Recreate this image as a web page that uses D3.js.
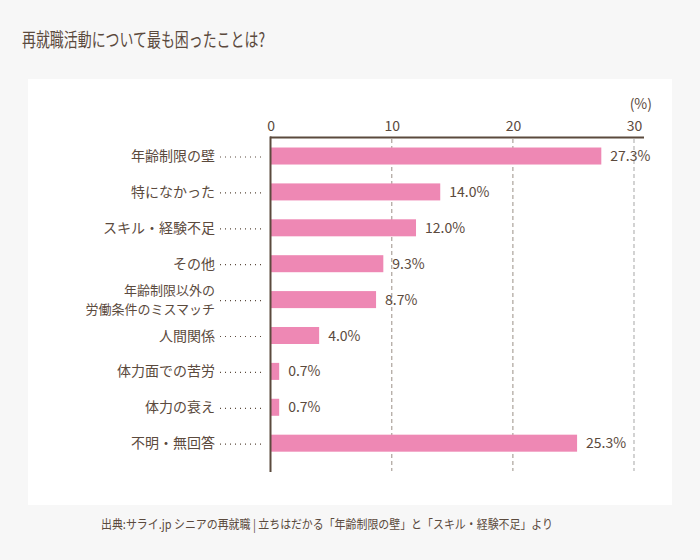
<!DOCTYPE html>
<html>
<head>
<meta charset="utf-8">
<script src="https://cdn.jsdelivr.net/npm/d3@7"></script>
<style>
  body { margin: 0; background: #f7f7f7; }
  svg { display: block; font-family: "Noto Sans CJK JP", "Noto Sans", sans-serif; }
</style>
</head>
<body>
<div id="chart"></div>
<script>
var title = "再就職活動について最も困ったことは?";
var source = "出典:サライ.jp シニアの再就職 | 立ちはだかる「年齢制限の壁」と「スキル・経験不足」より";
var categories = [
    ["年齢制限の壁"],
    ["特になかった"],
    ["スキル・経験不足"],
    ["その他"],
    ["年齢制限以外の", "労働条件のミスマッチ"],
    ["人間関係"],
    ["体力面での苦労"],
    ["体力の衰え"],
    ["不明・無回答"]
];
var values = [27.3, 14.0, 12.0, 9.3, 8.7, 4.0, 0.7, 0.7, 25.3];
var ticks = [0, 10, 20, 30];

var textColor = "#5b4a3d";
var svg = d3.select('#chart').append('svg')
    .attr('width', 700)
    .attr('height', 560);

svg.append('rect').attr('width', 700).attr('height', 560).attr('fill', '#f7f7f7');
svg.append('rect').attr('x', 28).attr('y', 79).attr('width', 644).attr('height', 426).attr('fill', '#fff');

svg.append('text').attr('x', 22).attr('y', 47)
    .attr('font-size', 19).attr('fill', textColor)
    .attr('textLength', 243).attr('lengthAdjust', 'spacingAndGlyphs')
    .text(title);

var x = d3.scaleLinear().domain([0, 30]).range([270.7, 634]);
var y = d3.scaleBand().domain(d3.range(categories.length))
    .range([138, 461.2]).paddingInner(0.526).paddingOuter(0.265);

// gridlines
svg.selectAll('line.grid').data(ticks.slice(1)).enter().append('line')
    .attr('x1', function(d){return x(d)}).attr('x2', function(d){return x(d)})
    .attr('y1', 139).attr('y2', 471)
    .attr('stroke', function(d){return d === 30 ? '#c8c8c8' : '#9a8f86'})
    .attr('stroke-width', function(d){return d === 30 ? 1.6 : 1})
    .attr('stroke-dasharray', '4,3');

// bars
svg.selectAll('rect.bar').data(values).enter().append('rect')
    .attr('x', x(0))
    .attr('y', function(d, i){return y(i)})
    .attr('width', function(d){return x(d) - x(0)})
    .attr('height', y.bandwidth())
    .attr('fill', '#ee88b4');

svg.selectAll('text.val').data(values).enter().append('text')
    .attr('x', function(d){return x(d) + 9})
    .attr('y', function(d, i){return y(i) + y.bandwidth() / 2})
    .attr('dy', '0.36em')
    .attr('font-size', 14).attr('fill', textColor)
    .text(function(d){return d.toFixed(1) + '%'});

// category labels with dotted leaders
var rows = svg.selectAll('g.row').data(categories).enter().append('g')
    .attr('transform', function(d, i){return 'translate(0,' + (y(i) + y.bandwidth() / 2) + ')'});
rows.each(function(d){
    var g = d3.select(this);
    d.forEach(function(line, i){
        g.append('text')
            .attr('x', 215).attr('text-anchor', 'end')
            .attr('y', (i - (d.length - 1) / 2) * 19)
            .attr('dy', '0.36em')
            .attr('font-size', d.length > 1 ? 13 : 14).attr('fill', textColor)
            .text(line);
    });
});
rows.append('line')
    .attr('x1', 220).attr('x2', 262).attr('y1', 1).attr('y2', 1)
    .attr('stroke', textColor).attr('stroke-width', 1.2)
    .attr('stroke-dasharray', '1,4');

// axes
var axis = svg.append('g').attr('transform', 'translate(0,137.5)')
    .call(d3.axisTop(x).tickValues(ticks).tickSize(0).tickPadding(7));
axis.select('.domain').remove();
axis.selectAll('text').attr('font-size', 14).attr('fill', textColor)
    .style('font-family', '"Noto Sans CJK JP", sans-serif');

svg.append('line').attr('x1', 270).attr('x2', 644).attr('y1', 137.5).attr('y2', 137.5)
    .attr('stroke', textColor).attr('stroke-width', 2);
svg.append('line').attr('x1', 270.5).attr('x2', 270.5).attr('y1', 136.5).attr('y2', 472)
    .attr('stroke', textColor).attr('stroke-width', 2);

svg.append('text').attr('x', 652).attr('y', 109).attr('text-anchor', 'end')
    .attr('font-size', 14).attr('fill', textColor).text('(%)');

svg.append('text').attr('x', 101).attr('y', 529)
    .attr('font-size', 12.5).attr('fill', textColor)
    .attr('textLength', 452).attr('lengthAdjust', 'spacingAndGlyphs')
    .text(source);
</script>
</body>
</html>
